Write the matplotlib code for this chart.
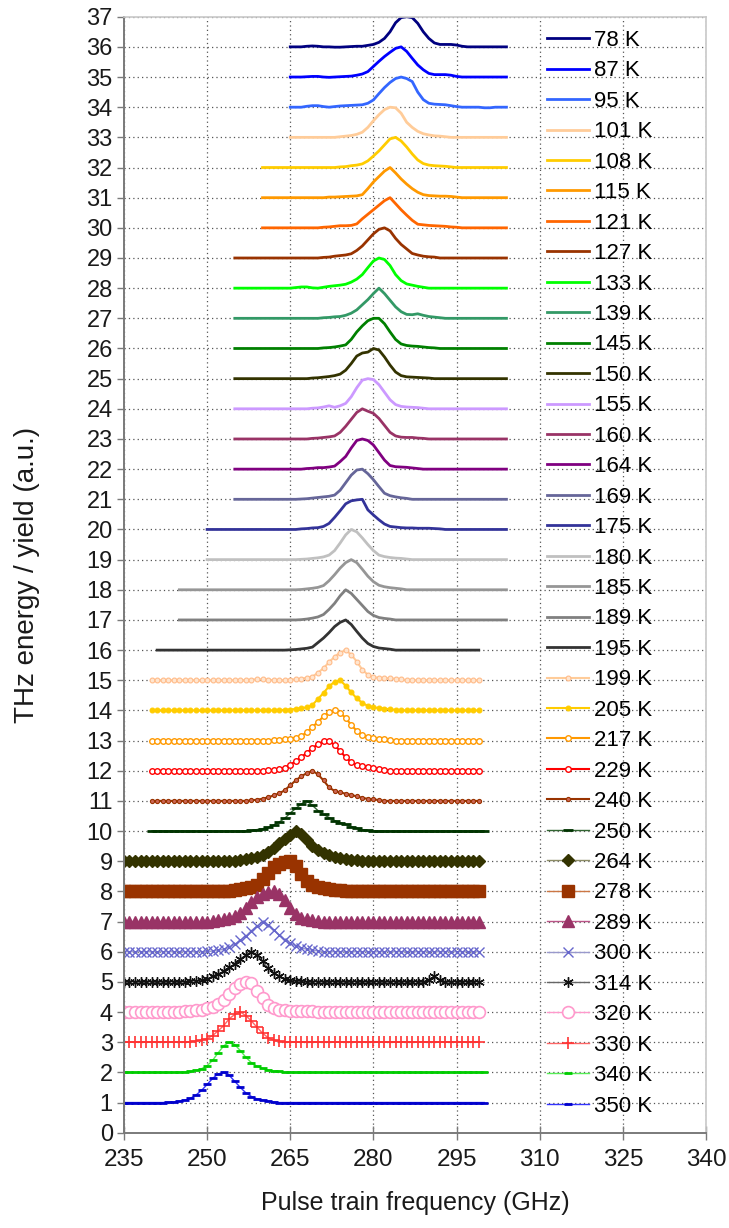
import numpy as np
import matplotlib
matplotlib.use("Agg")
import matplotlib.pyplot as plt

plt.rcParams['font.family'] = ['Liberation Sans', 'DejaVu Sans']

# =========================
# DATA
# =========================

temps = ['78 K', '87 K', '95 K', '101 K', '108 K', '115 K', '121 K', '127 K',
         '133 K', '139 K', '145 K', '150 K', '155 K', '160 K', '164 K', '169 K',
         '175 K', '180 K', '185 K', '189 K', '195 K', '199 K', '205 K', '217 K',
         '229 K', '240 K', '250 K', '264 K', '278 K', '289 K', '300 K', '314 K',
         '320 K', '330 K', '340 K', '350 K']

# baseline (vertical offset) of each trace
levels = [36, 35, 34, 33, 32, 31, 30, 29, 28, 27, 26, 25, 24, 23, 22, 21, 20, 19,
          18, 17, 16, 15, 14, 13, 12, 11, 10, 9, 8, 7, 6, 5, 4, 3, 2, 1]

# scanned frequency range (GHz), 1 GHz steps
f_start = [265, 265, 265, 265, 260, 260, 260, 255, 255, 255, 255, 255, 255, 255,
           255, 255, 250, 250, 245, 245, 241, 240, 240, 240, 240, 240, 240, 235,
           235, 235, 235, 235, 235, 235, 235, 235]
f_stop = [304, 304, 304, 304, 304, 304, 304, 304, 304, 304, 304, 304, 304, 304,
          304, 304, 304, 304, 304, 304, 299, 299, 299, 299, 299, 299, 300, 299,
          299, 299, 299, 299, 299, 299, 300, 300]

# first frequency of the resonance region and the normalised yield above baseline
peak_from = [268, 267, 268, 274, 274, 272, 271, 271, 266, 271, 271, 269, 269, 269,
             268, 267, 267, 267, 267, 267, 265, 258, 263, 262, 261, 258, 257, 254,
             254, 251, 250, 247, 245, 246, 245, 243]

peaks = [
    # 78 K
    [0.02, 0.03, 0.02, 0.0, 0.0, -0.01, -0.01, 0.0, 0.01, 0.02, 0.02, 0.05, 0.08,
     0.15, 0.28, 0.5, 0.8, 0.97, 1.0, 0.97, 0.78, 0.5, 0.28, 0.13, 0.08, 0.08,
     0.08, 0.06, 0.02],
    # 87 K
    [0.0, 0.01, 0.02, 0.02, 0.0, -0.01, 0.0, 0.01, 0.02, 0.03, 0.06, 0.1, 0.18,
     0.35, 0.52, 0.68, 0.82, 0.95, 1.0, 0.85, 0.62, 0.4, 0.24, 0.12, 0.08, 0.08,
     0.08, 0.06, 0.02],
    # 95 K
    [0.03, 0.05, 0.05, 0.02, 0.0, 0.02, 0.04, 0.05, 0.06, 0.07, 0.08, 0.13, 0.24,
     0.45, 0.65, 0.82, 0.95, 1.0, 0.95, 0.85, 0.5, 0.25, 0.13, 0.1, 0.09, 0.08,
     0.05, 0.02, 0.0, 0.0, 0.0, 0.0, -0.02, -0.02, 0.0],
    # 101 K
    [0.02, 0.04, 0.06, 0.1, 0.17, 0.33, 0.55, 0.75, 0.92, 1.0, 0.98, 0.8, 0.5,
     0.33, 0.2, 0.12, 0.08, 0.05, 0.04, 0.02],
    # 108 K
    [0.02, 0.03, 0.06, 0.08, 0.12, 0.22, 0.38, 0.55, 0.75, 0.95, 1.0, 0.88, 0.68,
     0.45, 0.25, 0.13, 0.08, 0.06, 0.05, 0.04, 0.02],
    # 115 K
    [0.02, 0.02, 0.03, 0.04, 0.05, 0.06, 0.1, 0.3, 0.52, 0.7, 0.88, 1.0, 0.82,
     0.62, 0.45, 0.3, 0.18, 0.1, 0.07, 0.06, 0.05, 0.05, 0.04, 0.02],
    # 121 K
    [0.02, 0.03, 0.05, 0.07, 0.07, 0.08, 0.13, 0.3, 0.45, 0.6, 0.75, 0.9, 1.0,
     0.8, 0.6, 0.42, 0.25, 0.12, 0.1, 0.08, 0.07, 0.06, 0.05, 0.03, 0.02],
    # 127 K
    [0.02, 0.03, 0.06, 0.08, 0.1, 0.14, 0.25, 0.4, 0.6, 0.8, 0.95, 1.0, 0.9,
     0.65, 0.45, 0.3, 0.15, 0.1, 0.06, 0.04, 0.03],
    # 133 K
    [0.02, 0.04, 0.04, 0.01, 0.0, 0.03, 0.06, 0.08, 0.1, 0.13, 0.2, 0.3, 0.45,
     0.68, 0.9, 1.0, 0.95, 0.75, 0.45, 0.25, 0.14, 0.1, 0.06, 0.03],
    # 139 K
    [0.02, 0.03, 0.05, 0.06, 0.1, 0.17, 0.28, 0.45, 0.62, 0.82, 1.0, 0.82, 0.6,
     0.38, 0.22, 0.13, 0.12, 0.15, 0.1, 0.06, 0.04, 0.02],
    # 145 K
    [0.02, 0.03, 0.05, 0.08, 0.12, 0.3, 0.55, 0.75, 0.92, 1.0, 1.0, 0.82, 0.55,
     0.3, 0.15, 0.1, 0.08, 0.07, 0.05, 0.03, 0.02],
    # 150 K
    [0.02, 0.03, 0.05, 0.07, 0.1, 0.15, 0.28, 0.5, 0.75, 0.85, 0.88, 1.0, 0.95,
     0.72, 0.45, 0.22, 0.1, 0.06, 0.05, 0.04, 0.03, 0.02],
    # 155 K
    [0.02, 0.03, 0.06, 0.1, 0.05, 0.1, 0.18, 0.4, 0.7, 0.95, 1.0, 0.97, 0.8,
     0.55, 0.3, 0.14, 0.08, 0.06, 0.05, 0.04, 0.02],
    # 160 K
    [0.02, 0.03, 0.05, 0.07, 0.1, 0.22, 0.42, 0.65, 0.88, 1.0, 0.92, 0.85, 0.68,
     0.45, 0.22, 0.1, 0.06, 0.05, 0.05, 0.03, 0.02],
    # 164 K
    [0.02, 0.03, 0.05, 0.05, 0.07, 0.1, 0.25, 0.42, 0.7, 0.95, 1.0, 0.95, 0.8,
     0.55, 0.3, 0.12, 0.08, 0.07, 0.06, 0.04, 0.02],
    # 169 K
    [0.01, 0.02, 0.04, 0.06, 0.08, 0.1, 0.14, 0.3, 0.55, 0.8, 0.97, 1.0, 0.85,
     0.65, 0.42, 0.2, 0.12, 0.08, 0.05, 0.03],
    # 175 K
    [0.02, 0.03, 0.05, 0.06, 0.1, 0.2, 0.4, 0.62, 0.85, 0.95, 0.98, 1.0, 0.65,
     0.48, 0.32, 0.18, 0.1, 0.08, 0.06, 0.05, 0.05, 0.04, 0.04, 0.04, 0.03, 0.02],
    # 180 K
    [0.01, 0.02, 0.04, 0.06, 0.09, 0.15, 0.3, 0.55, 0.82, 1.0, 0.92, 0.72, 0.5,
     0.3, 0.15, 0.1, 0.07, 0.05, 0.04, 0.02],
    # 185 K
    [0.01, 0.03, 0.05, 0.08, 0.14, 0.3, 0.5, 0.72, 0.9, 1.0, 0.9, 0.68, 0.45,
     0.27, 0.15, 0.1, 0.07, 0.05, 0.03],
    # 189 K
    [0.01, 0.03, 0.06, 0.1, 0.18, 0.35, 0.55, 0.8, 1.0, 0.88, 0.68, 0.48, 0.28,
     0.15, 0.08, 0.05, 0.03],
    # 195 K
    [0.01, 0.02, 0.04, 0.06, 0.1, 0.25, 0.4, 0.58, 0.78, 0.92, 1.0, 0.85, 0.62,
     0.4, 0.22, 0.12, 0.07, 0.05, 0.03],
    # 199 K
    [0.02, 0.03, 0.03, 0.02, 0.0, 0.0, 0.0, 0.02, 0.03, 0.05, 0.08, 0.12, 0.25,
     0.4, 0.6, 0.78, 0.92, 1.0, 0.85, 0.62, 0.35, 0.18, 0.1, 0.08, 0.07, 0.06,
     0.05, 0.03],
    # 205 K
    [0.01, 0.02, 0.03, 0.05, 0.08, 0.1, 0.18, 0.38, 0.58, 0.8, 0.95, 1.0, 0.82,
     0.6, 0.4, 0.25, 0.15, 0.1, 0.08, 0.06, 0.04, 0.02],
    # 217 K
    [0.01, 0.02, 0.04, 0.06, 0.1, 0.15, 0.28, 0.45, 0.62, 0.8, 0.95, 1.0, 0.92,
     0.75, 0.52, 0.32, 0.18, 0.12, 0.08, 0.06, 0.04, 0.02],
    # 229 K
    [0.01, 0.02, 0.05, 0.1, 0.2, 0.32, 0.45, 0.6, 0.75, 0.88, 0.98, 1.0, 0.85,
     0.65, 0.45, 0.28, 0.18, 0.15, 0.12, 0.08, 0.05, 0.03],
    # 240 K
    [0.02, 0.04, 0.07, 0.12, 0.18, 0.25, 0.35, 0.52, 0.68, 0.82, 0.92, 1.0, 0.88,
     0.68, 0.45, 0.33, 0.28, 0.24, 0.2, 0.15, 0.1, 0.07, 0.05, 0.03],
    # 250 K
    [0.01, 0.02, 0.05, 0.08, 0.12, 0.2, 0.3, 0.42, 0.6, 0.75, 0.9, 1.0, 0.85,
     0.68, 0.55, 0.45, 0.35, 0.28, 0.22, 0.15, 0.1, 0.05, 0.02],
    # 264 K
    [0.01, 0.02, 0.04, 0.07, 0.1, 0.15, 0.22, 0.32, 0.45, 0.6, 0.75, 0.88, 1.0,
     0.9, 0.72, 0.52, 0.38, 0.28, 0.2, 0.14, 0.1, 0.07, 0.05, 0.03],
    # 278 K
    [0.02, 0.04, 0.07, 0.1, 0.15, 0.22, 0.4, 0.62, 0.8, 0.92, 0.98, 1.0, 0.85,
     0.58, 0.35, 0.22, 0.15, 0.1, 0.07, 0.05, 0.04, 0.03, 0.02],
    # 289 K
    [0.02, 0.04, 0.08, 0.12, 0.18, 0.3, 0.45, 0.65, 0.82, 0.92, 0.98, 1.0, 0.9,
     0.7, 0.45, 0.25, 0.12, 0.07, 0.04, 0.02],
    # 300 K
    [0.01, 0.02, 0.05, 0.08, 0.15, 0.25, 0.38, 0.52, 0.7, 0.85, 1.0, 0.88, 0.72,
     0.55, 0.4, 0.28, 0.2, 0.13, 0.08, 0.05, 0.03],
    # 314 K
    [0.02, 0.04, 0.06, 0.1, 0.18, 0.26, 0.35, 0.48, 0.6, 0.75, 0.9, 1.0, 0.9,
     0.68, 0.45, 0.3, 0.18, 0.1, 0.06, 0.04, 0.02, 0.0, 0.0, 0.0, 0.0, 0.0, 0.0,
     0.0, 0.0, 0.0, 0.0, 0.0, 0.0, 0.0, 0.0, 0.0, 0.0, 0.0, 0.0, 0.0, 0.0, 0.0,
     0.0, 0.05, 0.18, 0.05],
    # 320 K
    [0.01, 0.02, 0.04, 0.06, 0.08, 0.12, 0.18, 0.28, 0.4, 0.6, 0.8, 0.92, 1.0,
     0.95, 0.7, 0.45, 0.25, 0.12, 0.08, 0.06, 0.05, 0.05, 0.04, 0.03, 0.02],
    # 330 K
    [0.01, 0.02, 0.04, 0.07, 0.12, 0.22, 0.38, 0.55, 0.78, 0.92, 1.0, 0.88, 0.7,
     0.5, 0.3, 0.15, 0.07, 0.03],
    # 340 K
    [0.01, 0.02, 0.04, 0.07, 0.12, 0.22, 0.4, 0.65, 0.88, 1.0, 0.92, 0.72, 0.5,
     0.32, 0.2, 0.13, 0.08, 0.05, 0.03],
    # 350 K
    [0.01, 0.02, 0.05, 0.08, 0.14, 0.25, 0.4, 0.6, 0.8, 0.95, 1.0, 0.9, 0.7,
     0.5, 0.32, 0.2, 0.12, 0.08, 0.05, 0.02],
]

# =========================
# STYLES
# =========================

line_colors = ['#000080', '#0000FF', '#3366FF', '#FFCC99', '#FFCC00', '#FF9900',
               '#FF6600', '#993300', '#00FF00', '#339966', '#008000', '#333300',
               '#CC99FF', '#993366', '#800080', '#666699', '#333399', '#C0C0C0',
               '#969696', '#808080', '#333333',
               '#FFCC99', '#FFCC00', '#FF9900', '#FF0000', '#993300', '#336633',
               '#8C8C66', '#CC7744', '#BB5588', '#9999CC', '#666666', '#FF99CC',
               '#FF6666', '#55EE55', '#3333FF']

marker_styles = {
    '199 K': dict(marker='o', ms=3.5, mfc='#FFE6D0', mec='#FFBB88', mew=0.8, lw=1.5),
    '205 K': dict(marker='o', ms=3.5, mfc='#FFCC00', mec='#FFCC00', mew=0.8, lw=1.5),
    '217 K': dict(marker='o', ms=4, mfc='white', mec='#FF9900', mew=1.0, lw=1.5),
    '229 K': dict(marker='o', ms=4, mfc='white', mec='#FF0000', mew=1.0, lw=1.5),
    '240 K': dict(marker='o', ms=3, mfc='#CC6655', mec='#993300', mew=0.8, lw=1.5),
    '250 K': dict(marker='_', ms=7, mec='#003300', mew=2.0, lw=1.0),
    '264 K': dict(marker='D', ms=6.5, mfc='#333300', mec='#333300', lw=1.0),
    '278 K': dict(marker='s', ms=8, mfc='#993300', mec='#993300', lw=1.0),
    '289 K': dict(marker='^', ms=8, mfc='#993366', mec='#993366', lw=1.0),
    '300 K': dict(marker='x', ms=6.5, mec='#6666CC', mew=1.0, lw=1.0),
    '314 K': dict(marker=(6, 2, 0), ms=7.5, mec='#111111', mew=1.0, lw=1.0),
    '320 K': dict(marker='o', ms=8.5, mfc='white', mec='#FF99CC', mew=1.2, lw=1.0),
    '330 K': dict(marker='+', ms=8, mec='#FF3333', mew=1.2, lw=1.0),
    '340 K': dict(marker='_', ms=6, mec='#00CC00', mew=2.0, lw=1.0),
    '350 K': dict(marker='_', ms=6, mec='#0000CC', mew=2.0, lw=1.0),
}

# =========================
# FIGURE
# =========================

fig = plt.figure(figsize=(7.29, 12.28), dpi=100)
ax = fig.add_axes([0.170, 0.0776, 0.7985, 0.9088])

for i, name in enumerate(temps):
    freq = np.arange(f_start[i], f_stop[i] + 1)
    y = np.zeros(len(freq))
    k = peak_from[i] - f_start[i]
    p = np.array(peaks[i])
    y[k:k + len(p)] = p
    style = marker_styles.get(name, dict(lw=2.0))
    ax.plot(freq, y + levels[i], color=line_colors[i], label=name,
            solid_joinstyle='round', **style)

ax.set_xlim(235, 340)
ax.set_ylim(0, 37)
ax.set_xticks(np.arange(235, 341, 15))
ax.set_yticks(np.arange(0, 38, 1))

ax.grid(True, color='#555555', linestyle=(0, (1, 2.5)), linewidth=0.9)
ax.set_axisbelow(True)

for side in ['left', 'bottom']:
    ax.spines[side].set_color('#7a7a7a')
    ax.spines[side].set_linewidth(1.4)
for side in ['top', 'right']:
    ax.spines[side].set_color('#c8c8c8')
    ax.spines[side].set_linewidth(1.2)

ax.tick_params(axis='y', direction='out', length=5, width=1.0, color='#7a7a7a',
               labelsize=17, pad=3, labelcolor='#1a1a1a')
ax.tick_params(axis='x', direction='inout', length=10, width=1.0, color='#7a7a7a',
               labelsize=17.5, pad=7, labelcolor='#1a1a1a')

ax.set_xlabel('Pulse train frequency (GHz)', fontsize=18, color='#1a1a1a',
              labelpad=14)
ax.set_ylabel('THz energy / yield (a.u.)', fontsize=20, color='#1a1a1a')
ax.yaxis.set_label_coords(-0.145, 0.5)

leg = fig.legend(loc='upper left', bbox_to_anchor=(547 / 729, 1 - 30 / 1228),
                 frameon=False, fontsize=16, labelspacing=0.425,
                 handlelength=1.9, handletextpad=0.2, borderpad=0,
                 borderaxespad=0, numpoints=1)

fig.savefig('out.png', dpi=100)
